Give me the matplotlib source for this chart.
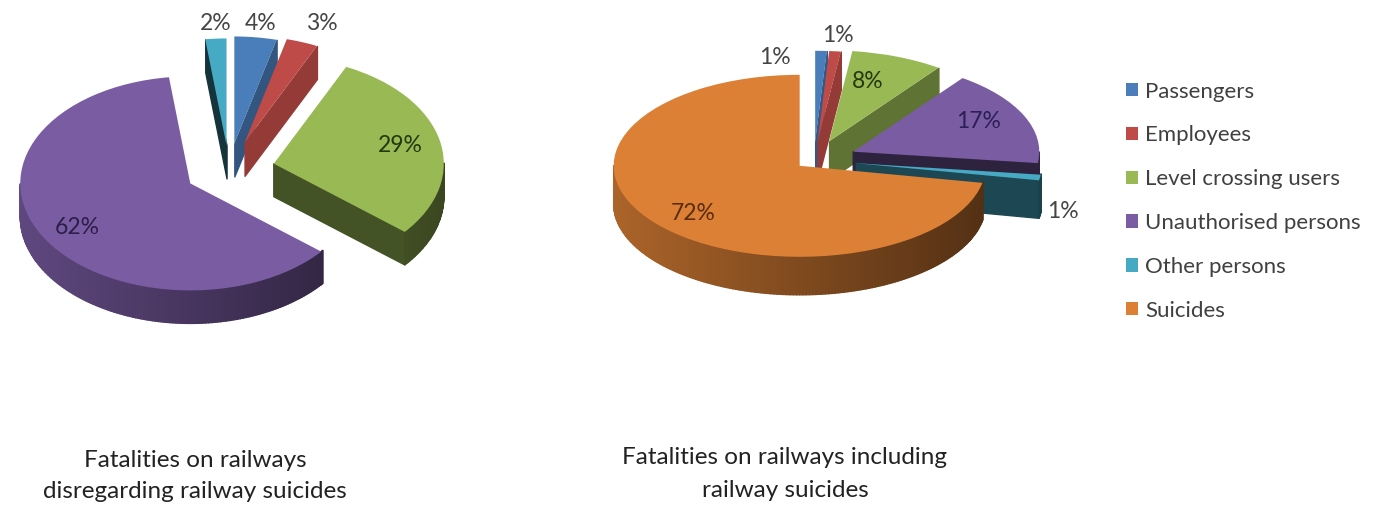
#!/usr/bin/env python
# coding=utf-8
import numpy as np
import matplotlib
matplotlib.use('Agg')
import matplotlib.pyplot as plt
from matplotlib.collections import PolyCollection
from matplotlib.colors import to_rgb
from matplotlib.patches import Patch

W, H = 1386, 505

categories = ['Passengers', 'Employees', 'Level crossing users',
              'Unauthorised persons', 'Other persons', 'Suicides']
colors = ['#4a7ebb', '#be4b48', '#98b954', '#7a5ca3', '#46aac5', '#dc8035']

values_left = [4, 3, 29, 62, 2]
values_right = [1, 1, 8, 17, 1, 72]
left_idx = [0, 1, 2, 3, 4]
right_idx = [0, 1, 2, 3, 4, 5]

title_left = 'Fatalities on railways\ndisregarding railway suicides'
title_right = 'Fatalities on railways including\nrailway suicides'


def draw_pie(fig, values, idx, cx, cy, rx, ry, depth, explode, cut_shade, text_pos, text_cols):
    ax = fig.add_axes([0, 0, 1, 1])
    wedges, _ = ax.pie(values, explode=explode, colors=[colors[i] for i in idx],
                       startangle=90, counterclock=False, radius=1,
                       wedgeprops={'linewidth': 0})
    ax.set_aspect('auto')
    ax.set_xlim(-cx / rx, (W - cx) / rx)
    ax.set_ylim((cy - H) / ry, cy / ry)
    ax.axis('off')
    ax.patch.set_alpha(0)
    dz = depth / ry

    for n, w in enumerate(wedges):
        base = np.array(to_rgb(colors[idx[n]]))
        x0, y0 = w.center
        t1, t2 = w.theta1, w.theta2
        polys, cols = [], []
        # outer wall, front half only
        ts = np.radians(np.arange(t1, t2 + 1.0, 1.0))
        ts = np.append(ts, np.radians(t2))
        for a, b in zip(ts[:-1], ts[1:]):
            mid = (a + b) / 2
            if np.sin(mid) >= 0:
                continue
            xa, ya = x0 + np.cos(a), y0 + np.sin(a)
            xb, yb = x0 + np.cos(b), y0 + np.sin(b)
            polys.append([(xa, ya), (xb, yb), (xb, yb - dz), (xa, ya - dz)])
            cols.append(base * (0.78 - 0.40 * (np.cos(mid) + 1) / 2))
        # cut faces
        for t, vis in ((t1, np.cos(np.radians(t1)) > 1e-6), (t2, np.cos(np.radians(t2)) < -1e-6)):
            if vis:
                xe, ye = x0 + np.cos(np.radians(t)), y0 + np.sin(np.radians(t))
                polys.insert(0, [(x0, y0), (xe, ye), (xe, ye - dz), (x0, y0 - dz)])
                cols.insert(0, base * cut_shade[n])
        z = 2 + 2 * n
        if polys:
            ax.add_collection(PolyCollection(polys, facecolors=cols, edgecolors=cols,
                                             linewidths=1.0, zorder=z))
        w.set_zorder(z + 1)

    for v, (tx, ty), c in zip(values, text_pos, text_cols):
        over.text(tx, ty, f'{v}%', color=c, fontsize=FS, ha='center', va='center')
    return wedges


FS = 16.5
plt.rcParams['font.family'] = ['Lato', 'DejaVu Sans']
fig = plt.figure(figsize=(W / 100, H / 100), dpi=100, facecolor='white')

over = fig.add_axes([0, 0, 1, 1], zorder=20)
over.set_xlim(0, W)
over.set_ylim(H, 0)
over.axis('off')
over.patch.set_alpha(0)

grey = '#454545'
draw_pie(fig, values_left, left_idx, 229, 170, 170, 107, 33,
         explode=[0.25, 0.27, 0.27, 0.26, 0.23],
         cut_shade=[0.68, 0.78, 0.45, 0.4, 0.3],
         text_pos=[(261, 23), (322, 23), (400, 145), (77, 227), (216, 23)],
         text_cols=[grey, grey, '#24380f', '#2b1f4a', grey])

draw_pie(fig, values_right, right_idx, 814, 160, 186, 91, 38,
         explode=[0.2, 0.2, 0.22, 0.23, 0.23, 0.1],
         cut_shade=[0.7, 0.78, 0.62, 0.38, 0.42, 0.5],
         text_pos=[(838, 35), (775, 58), (868, 81), (979, 122), (1063, 212), (693, 213)],
         text_cols=[grey, grey, '#26380f', '#2b1f55', grey, '#5a2c10'])

over.text(195, 476, title_left, ha='center', va='center', fontsize=17.5, color='#222222', linespacing=1.62)
over.text(785, 474, title_right, ha='center', va='center', fontsize=17.5, color='#222222', linespacing=1.65)

handles = [Patch(facecolor=c, edgecolor='none') for c in colors]
fig.legend(handles, categories, loc='upper left', bbox_to_anchor=(1119 / W, 1 - 75 / H),
           frameon=False, fontsize=16, labelcolor='#404040', handlelength=0.55, handleheight=0.55,
           handletextpad=0.32, labelspacing=1.07, borderpad=0.3, borderaxespad=0)

fig.savefig('out.png', dpi=100)
